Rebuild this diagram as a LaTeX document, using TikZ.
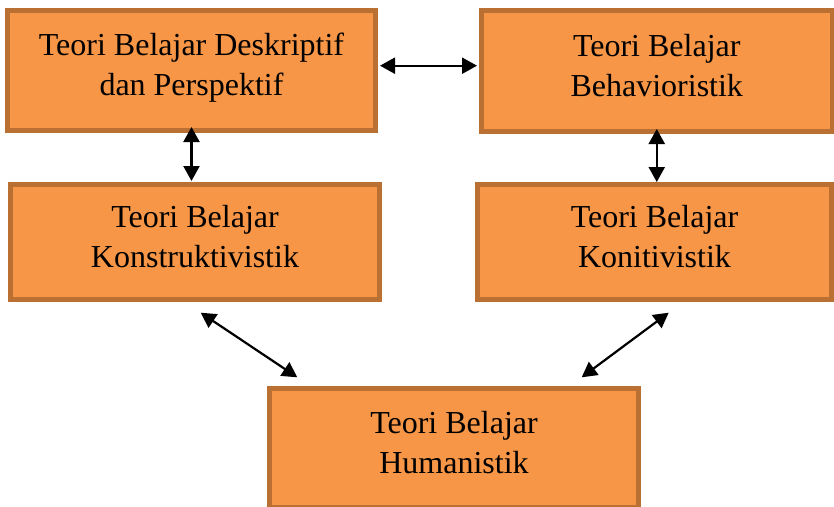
\documentclass[tikz,border=0pt]{standalone}
\usepackage{fontspec}
\setmainfont{Liberation Serif}
\usetikzlibrary{arrows.meta}
\definecolor{boxfill}{HTML}{F79646}
\definecolor{boxline}{RGB}{185,112,50}
\newcommand\lnstrut{\rule[-13pt]{0pt}{36pt}}
\tikzset{
  x=1pt, y=-1pt,
  tbox/.style={draw=boxline, fill=boxfill, line width=5pt, inner sep=0pt,
    align=center, font=\fontsize{32}{40}\selectfont},
  link/.style={line width=2.2pt, {Triangle[length=15pt,width=16pt]}-{Triangle[length=15pt,width=16pt]}}
}
\begin{document}
\begin{tikzpicture}
\useasboundingbox (0,0) rectangle (834,506);
\clip (0,0) rectangle (834,506);
\node[tbox, minimum width=368pt, minimum height=120pt] (A) at (191.5,70.5)
  {\lnstrut Teori Belajar Deskriptif\\\lnstrut dan Perspektif};
\node[tbox, minimum width=350.5pt, minimum height=121pt] (B) at (656.75,71)
  {\lnstrut Teori Belajar\\\lnstrut Behavioristik};
\node[tbox, minimum width=369pt, minimum height=115pt] (C) at (195,242)
  {\lnstrut Teori Belajar\\\lnstrut Konstruktivistik};
\node[tbox, minimum width=354pt, minimum height=115pt] (D) at (654.5,242)
  {\lnstrut Teori Belajar\\\lnstrut Konitivistik};
\node[tbox, minimum width=369pt, minimum height=119pt] (E) at (454,448)
  {\lnstrut Teori Belajar\\\lnstrut Humanistik};
\coordinate (c1) at (200.7,312.7);
\coordinate (e1) at (297.3,377.3);
\coordinate (d1) at (668.7,312.7);
\coordinate (e2) at (581.7,377.3);
\draw[link, shorten <=2pt, shorten >=2pt] (A.east |- 0,65.7) -- (B.west |- 0,65.7);
\draw[link] ([yshift=6pt]A.south) -- ([yshift=1pt]A.south |- C.north);
\draw[link] ([yshift=5pt]B.south) -- ([yshift=0pt]B.south |- D.north);
\draw[link] (c1) -- (e1);
\draw[link] (d1) -- (e2);
\end{tikzpicture}
\end{document}
